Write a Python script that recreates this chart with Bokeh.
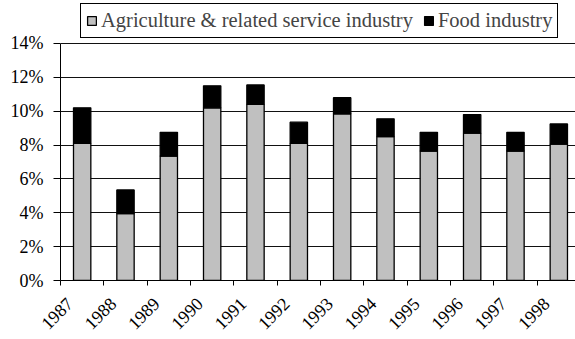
import math
from bokeh.plotting import figure
from bokeh.models import FixedTicker, Legend, LegendItem, PrintfTickFormatter, Range1d
from bokeh.embed import file_html
from bokeh.resources import INLINE

years = ["1987", "1988", "1989", "1990", "1991", "1992", "1993", "1994", "1995", "1996", "1997", "1998"]
agriculture = [8.1, 3.95, 7.35, 10.2, 10.4, 8.1, 9.85, 8.5, 7.65, 8.7, 7.65, 8.05]
food = [2.1, 1.4, 1.4, 1.3, 1.15, 1.25, 0.95, 1.05, 1.1, 1.1, 1.1, 1.2]
y_ticks = [0, 2, 4, 6, 8, 10, 12, 14]

xs = list(range(len(years)))
data = dict(x=xs, agri=agriculture, food=food)

FONT = "Liberation Serif"

p = figure(width=575, height=339, output_backend="svg", toolbar_location=None,
           x_range=Range1d(-0.5, 11.385), y_range=Range1d(0, 16.54),
           min_border_left=60, min_border_right=0, min_border_top=0, min_border_bottom=59)
p.outline_line_color = None
p.background_fill_color = "white"
p.border_fill_color = "white"

rs = p.vbar_stack(["agri", "food"], x="x", width=0.4, source=data,
                  fill_color=["#c0c0c0", "#000000"], line_color="black", line_width=1.3)

p.xgrid.visible = False
p.ygrid.grid_line_color = "#111111"
p.ygrid.grid_line_width = 1

p.yaxis.ticker = FixedTicker(ticks=y_ticks)
p.yaxis.bounds = (0, 14)
p.yaxis.formatter = PrintfTickFormatter(format="%d%%")
p.yaxis.minor_tick_line_color = None
p.yaxis.major_tick_out = 7
p.yaxis.major_tick_in = 0
p.yaxis.major_label_standoff = 10

label_pos = [i - 0.29 for i in xs]
p.xaxis.ticker = FixedTicker(ticks=label_pos, minor_ticks=[i - 0.5 for i in range(len(years) + 1)])
p.xaxis.major_label_overrides = {lp: y for lp, y in zip(label_pos, years)}
p.xaxis.major_tick_line_color = None
p.xaxis.major_tick_out = 5
p.xaxis.major_tick_in = 0
p.xaxis.minor_tick_out = 5
p.xaxis.minor_tick_in = 0
p.xaxis.minor_tick_line_color = "black"
p.xaxis.major_label_orientation = math.pi / 4
p.xaxis.major_label_standoff = 15

for ax in (p.xaxis, p.yaxis):
    ax.axis_line_color = "black"
    ax.axis_line_width = 1
    ax.major_label_text_font = FONT
    ax.major_label_text_font_size = "18px"
    ax.major_label_text_color = "black"

legend = Legend(items=[LegendItem(label="Agriculture & related service industry", renderers=[rs[0]]),
                       LegendItem(label="Food industry", renderers=[rs[1]])],
                orientation="horizontal", location=(20, 242))
legend.label_text_font = FONT
legend.label_text_font_size = "20.5px"
legend.label_height = 19
legend.glyph_width = 11
legend.glyph_height = 11
legend.padding = 5
legend.spacing = 10
legend.margin = 0
legend.label_standoff = 4
legend.border_line_color = "black"
legend.border_line_width = 1
legend.border_line_alpha = 1
legend.background_fill_color = "white"
legend.background_fill_alpha = 1
p.add_layout(legend)

open("out.html", "w").write(file_html(p, INLINE))
